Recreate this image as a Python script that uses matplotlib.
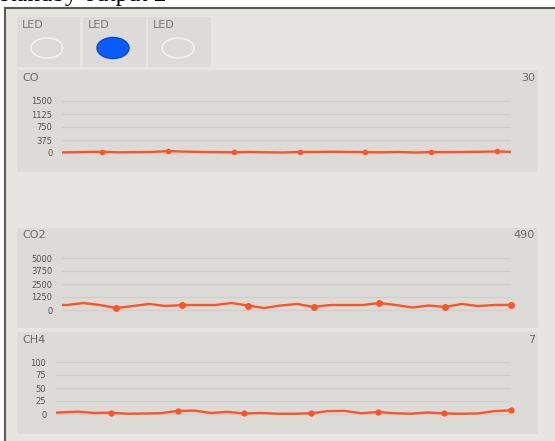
import numpy as np
import matplotlib
matplotlib.use("Agg")
import matplotlib.pyplot as plt
from matplotlib.patches import FancyBboxPatch, Ellipse, Rectangle

W, H = 555, 441

# data
led_labels = ["LED", "LED", "LED"]
led_on = [False, True, False]

co_vals = [20, 15, 20, 30, 35, 20, 25, 30, 55, 40, 30, 25, 20, 30, 20, 15,
           30, 30, 35, 30, 25, 20, 30, 15, 25, 25, 30, 35, 45, 30]
co2_vals = [480, 480, 670, 480, 190, 380, 580, 380, 480, 480, 480, 670, 430, 190, 430,
            580, 290, 480, 480, 480, 670, 480, 240, 430, 290, 580, 380, 480, 490]
ch4_vals = [2, 3, 4.5, 2, 2.5, 0.5, 1, 1.5, 6, 6.5, 2, 4, 1, 2, 0.5, 0.5,
            1.3, 5.5, 6, 1.5, 3.8, 1.5, 0.5, 3, 1, 0.5, 1, 5.5, 7]

co_ticks = [0, 375, 750, 1125, 1500]
co2_ticks = [0, 1250, 2500, 3750, 5000]
ch4_ticks = [0, 25, 50, 75, 100]

names = ["CO", "CO2", "CH4"]
current = ["30", "490", "7"]

LINE = "#ff5325"
FRAME_BG = "#e6e5e1"
PANEL_BG = "#dcdbd7"
TXT = "#6a6a6a"


def frac(x, y, w, h):
    return [x / W, 1 - (y + h) / H, w / W, h / H]


def fx(x):
    return x / W


def fy(y):
    return 1 - y / H


fig = plt.figure(figsize=(W / 100, H / 100), dpi=100)
fig.patch.set_facecolor("white")

# frame background + borders
fig.patches.append(Rectangle((fx(5), 0), 1 - fx(5), fy(8), transform=fig.transFigure,
                             facecolor=FRAME_BG, edgecolor="none", zorder=0))
fig.lines.append(plt.Line2D([fx(5), 1], [fy(8), fy(8)], transform=fig.transFigure,
                            color="#5a5a5a", lw=1.5))
fig.lines.append(plt.Line2D([fx(5), fx(5)], [0, fy(8)], transform=fig.transFigure,
                            color="#5a5a5a", lw=1.5))

# caption, cut off at the top like in the screenshot
fig.text(0, fy(1.5), "standby output 2", family="Liberation Serif", fontsize=18,
         color="black", va="baseline", ha="left")


def panel(x, y, w, h):
    fig.patches.append(FancyBboxPatch((fx(x), fy(y + h)), w / W, h / H,
                                      boxstyle="round,pad=0,rounding_size=0.004",
                                      transform=fig.transFigure, facecolor=PANEL_BG,
                                      edgecolor="none", zorder=1))


# LED boxes
led_x = [17, 83, 148]
for i, (lab, on) in enumerate(zip(led_labels, led_on)):
    x0 = led_x[i]
    panel(x0, 17, 63, 50)
    fig.text(fx(x0 + 5), fy(25), lab, fontsize=8, color="#777777",
             va="center", ha="left", family="DejaVu Sans")
    cx, cy = x0 + 30, 48
    if on:
        e = Ellipse((fx(cx), fy(cy)), 32 / W, 21 / H, transform=fig.transFigure,
                    facecolor="#0a5cff", edgecolor="#0848c8", lw=1, zorder=3)
    else:
        e = Ellipse((fx(cx), fy(cy)), 32 / W, 20 / H, transform=fig.transFigure,
                    facecolor="none", edgecolor="#f4f4f2", lw=1, zorder=3)
    fig.patches.append(e)

# chart panels: (panel top, panel bottom, label y, plot left, grid top, grid bottom)
layout = [
    (70, 172, 78, 62, 101, 153),
    (228, 328, 235, 62, 258, 310),
    (332, 434, 340, 56, 362, 414),
]
series = [co_vals, co2_vals, ch4_vals]
ticks = [co_ticks, co2_ticks, ch4_ticks]
offsets = [-0.85, 0.0, 0.0]
marker_size = [4.0, 5.0, 4.5]

for k in range(3):
    ptop, pbot, ly, left, gtop, gbot = layout[k]
    panel(17, ptop, 521, pbot - ptop)
    fig.text(fx(22), fy(ly), names[k], fontsize=8, color=TXT, va="center", ha="left")
    fig.text(fx(535), fy(ly), current[k], fontsize=8, color=TXT, va="center", ha="right")

    tk = ticks[k]
    span = tk[-1] - tk[0]
    pxu = span / (gbot - gtop)
    extra = 6  # px of room above/below grid
    ax = fig.add_axes(frac(left, gtop - extra, 511 - left, gbot - gtop + 2 * extra))
    ax.set_facecolor("none")
    ax.set_zorder(4)
    ax.set_ylim(tk[0] - extra * pxu, tk[-1] + extra * pxu)
    ax.set_xlim(0.7, 28)
    ax.set_yticks(tk)
    ax.set_yticklabels([str(t) for t in tk], fontsize=6, color="#555555")
    ax.set_xticks([])
    ax.tick_params(axis="y", length=0, pad=7)
    for s in ax.spines.values():
        s.set_visible(False)
    ax.grid(axis="y", color="#cfceca", lw=0.9)
    ax.set_axisbelow(True)

    vals = np.array(series[k], dtype=float)
    t = np.arange(len(vals)) + offsets[k]
    ax.plot(t, vals, color=LINE, lw=1.7, solid_joinstyle="round", zorder=3)
    idx = np.arange(len(vals))
    mk = (idx % 4 == 0) & (t >= 0.7) & (t <= 28.01)
    ax.plot(t[mk], vals[mk], "o", color=LINE, ms=marker_size[k], mec="none",
            clip_on=False, zorder=4)

fig.savefig("out.png", dpi=100, facecolor=fig.get_facecolor())
